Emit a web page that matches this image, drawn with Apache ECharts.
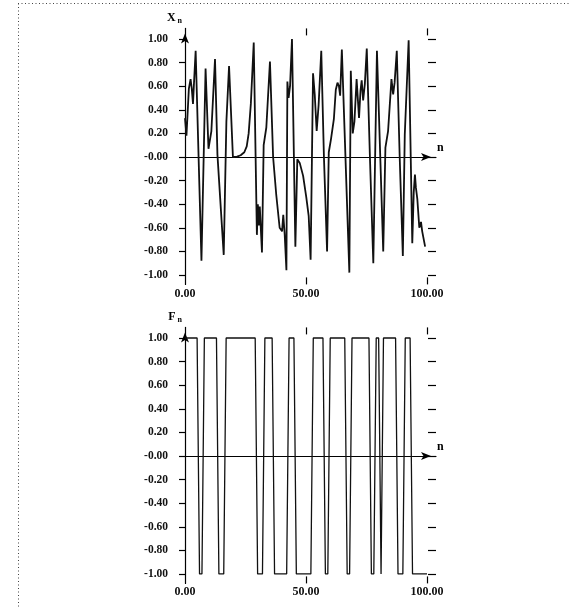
<!DOCTYPE html>
<html><head><meta charset="utf-8">
<script src="https://cdn.jsdelivr.net/npm/echarts@6/dist/echarts.min.js"></script>
<style>html,body{margin:0;padding:0;background:#fff}#c{width:569px;height:608px}</style>
</head><body><div id="c"></div>
<script>
// ---- data ----
const xTickVals = [0, 50, 100];
const xTickLabels = ['0.00', '50.00', '100.00'];
const yTickVals = [-1, -0.8, -0.6, -0.4, -0.2, 0, 0.2, 0.4, 0.6, 0.8, 1];
const yTickLabels = ['-1.00', '-0.80', '-0.60', '-0.40', '-0.20', '-0.00', '0.20', '0.40', '0.60', '0.80', '1.00'];

// X_n polyline (n, value)
const xN = [0, 0.6, 1.6, 2.3, 2.8, 3.3, 3.7, 4.4, 6.8, 8.5, 9.7, 10.9, 12.4, 13.4, 16.0, 17.1, 18.2, 19.8,
  21.5, 23.0, 24.5, 25.5, 26.3, 27.2, 28.4, 29.7, 30.1, 30.5, 30.9, 31.3, 31.8, 32.5, 33.6, 35.1, 36.4,
  37.7, 39.1, 40.1, 40.6, 41.2, 41.9, 42.3, 42.8, 43.4, 44.2, 45.6, 46.4, 47.4, 48.8, 50.1, 51.1, 51.9,
  52.9, 53.6, 54.4, 55.2, 56.3, 57.4, 58.7, 59.4, 60.3, 61.5, 62.3, 63.0, 63.6, 64.1, 64.8, 67.9, 68.5,
  69.3, 70.0, 70.9, 71.9, 72.5, 73.0, 73.6, 74.3, 75.1, 76.4, 77.8, 79.3, 81.9, 82.8, 83.9, 85.3, 86.0,
  86.6, 87.5, 88.7, 90.0, 90.8, 92.4, 93.9, 94.5, 95.0, 95.4, 96.0, 96.8, 97.5, 98.0, 99.2];
const xVal = [0.33, 0.18, 0.58, 0.66, 0.58, 0.45, 0.62, 0.9, -0.88, 0.75, 0.07, 0.22, 0.83, 0.02, -0.83, 0.3, 0.77, 0.0,
  0.003, 0.015, 0.04, 0.09, 0.2, 0.45, 0.97, -0.66, -0.4, -0.58, -0.42, -0.6, -0.81, 0.1, 0.25, 0.81, 0.0,
  -0.32, -0.6, -0.63, -0.49, -0.66, -0.96, 0.64, 0.5, 0.6, 1.0, -0.76, -0.02, -0.05, -0.16, -0.34, -0.5, -0.87,
  0.71, 0.53, 0.22, 0.44, 0.9, 0.0, -0.8, 0.04, 0.15, 0.32, 0.57, 0.63, 0.6, 0.52, 0.91, -0.98, 0.73,
  0.2, 0.3, 0.66, 0.33, 0.56, 0.65, 0.48, 0.62, 0.92, 0.0, -0.9, 0.9, -0.8, 0.08, 0.22, 0.66, 0.53,
  0.63, 0.9, 0.0, -0.84, 0.19, 0.99, -0.73, -0.3, -0.15, -0.26, -0.36, -0.6, -0.55, -0.63, -0.76];

// F_n, n = 0..100
const fVal = [1, 1, 1, 1, 1, 1, -1, -1, 1, 1, 1, 1, 1, 1, -1, -1, -1,
  1, 1, 1, 1, 1, 1, 1, 1, 1, 1, 1, 1, 1, -1, -1, -1, 1, 1, 1, 1,
  -1, -1, -1, -1, -1, -1, 1, 1, 1, -1, -1, -1, -1, -1, -1, -1,
  1, 1, 1, 1, 1, -1, -1, 1, 1, 1, 1, 1, 1, 1, -1, -1,
  1, 1, 1, 1, 1, 1, 1, 1, -1, -1, 1, 1, -1, 1, 1, 1, 1, 1, 1,
  -1, -1, -1, 1, 1, 1, -1, -1, -1, -1, -1, -1, -1];

// ---- chart ----
const FONT = 'Liberation Serif';
const yFmt = v => { const i = yTickVals.findIndex(t => Math.abs(t - v) < 1e-6); return i >= 0 ? yTickLabels[i] : ''; };
const xFmt = v => { const i = xTickVals.findIndex(t => Math.abs(t - v) < 1e-6); return i >= 0 ? xTickLabels[i] : ''; };
const LINE = { color: '#000', width: 1.2 };
const XMAX = 103.7, YMIN = -1.08, YMAX = 1.09;

function xAxesFor(g, labelMargin) {
  return [
    { gridIndex: g, type: 'value', min: 0, max: XMAX, position: 'bottom',
      axisLine: { show: false, onZero: false },
      axisTick: { show: true, inside: true, length: 7, customValues: [50, 100], lineStyle: LINE },
      axisLabel: { show: true, customValues: xTickVals, formatter: xFmt, margin: labelMargin,
        fontFamily: FONT, fontSize: 12, fontWeight: 'bold', color: '#111' },
      splitLine: { show: false } },
    { gridIndex: g, type: 'value', min: 0, max: XMAX, position: 'top',
      axisLine: { show: false, onZero: false },
      axisTick: { show: true, inside: true, length: 7, customValues: [50, 100], lineStyle: LINE },
      axisLabel: { show: false }, splitLine: { show: false } },
    { gridIndex: g, type: 'value', min: 0, max: XMAX, position: 'bottom',
      axisLine: { show: true, onZero: true, lineStyle: LINE, symbol: ['none', 'arrow'], symbolSize: [6, 10], symbolOffset: [0, -5] },
      axisTick: { show: false }, axisLabel: { show: false }, splitLine: { show: false },
      name: 'n', nameLocation: 'end', nameGap: 1,
      nameTextStyle: { fontFamily: FONT, fontSize: 12, fontWeight: 'bold', color: '#000', align: 'left', verticalAlign: 'bottom', padding: [0, 0, 3, 0] } }
  ];
}
function yAxesFor(g, sym) {
  return [
    { gridIndex: g, type: 'value', min: YMIN, max: YMAX, position: 'left',
      axisLine: { show: true, onZero: false, lineStyle: LINE, symbol: ['none', 'arrow'], symbolSize: [6, 10], symbolOffset: [0, -5] },
      axisTick: { show: true, inside: false, length: 6, customValues: yTickVals, lineStyle: LINE },
      axisLabel: { show: true, customValues: yTickVals, formatter: yFmt, margin: 17,
        fontFamily: FONT, fontSize: 11.5, fontWeight: 'bold', color: '#111' },
      splitLine: { show: false },
      name: '{a|' + sym + '}{b|n}', nameLocation: 'end', nameGap: 3,
      nameTextStyle: { align: 'right', verticalAlign: 'bottom', padding: [0, 3, 0, 0],
        rich: { a: { fontFamily: FONT, fontSize: 12, fontWeight: 'bold', color: '#000' },
                b: { fontFamily: FONT, fontSize: 8, fontWeight: 'bold', color: '#000', padding: [6, 0, 0, 2] } } } },
    { gridIndex: g, type: 'value', min: YMIN, max: YMAX, position: 'right',
      axisLine: { show: false, onZero: false },
      axisTick: { show: true, inside: true, length: 8, customValues: yTickVals, lineStyle: LINE },
      axisLabel: { show: false }, splitLine: { show: false } }
  ];
}

const chart = echarts.init(document.getElementById('c'), null, { renderer: 'canvas' });
chart.setOption({
  animation: false,
  backgroundColor: '#fff',
  grid: [
    { left: 185, top: 28.4, width: 251, height: 256 },
    { left: 185, top: 327.4, width: 251, height: 256 }
  ],
  xAxis: [...xAxesFor(0, 4), ...xAxesFor(1, 3)],
  yAxis: [...yAxesFor(0, 'X'), ...yAxesFor(1, 'F')],
  series: [
    { type: 'line', xAxisIndex: 0, yAxisIndex: 0, showSymbol: false, symbol: 'none',
      data: xN.map((n, i) => [n, xVal[i]]),
      lineStyle: { color: '#111', width: 1.8 } },
    { type: 'line', xAxisIndex: 3, yAxisIndex: 2, showSymbol: false, symbol: 'none',
      data: fVal.map((v, n) => [n, v]),
      lineStyle: { color: '#111', width: 1.3 } }
  ],
  graphic: [
    { type: 'line', shape: { x1: 18, y1: 3.5, x2: 569, y2: 3.5 }, style: { stroke: '#444', lineWidth: 1, lineDash: [1, 2.5] }, silent: true },
    { type: 'line', shape: { x1: 18.5, y1: 3.5, x2: 18.5, y2: 608 }, style: { stroke: '#444', lineWidth: 1, lineDash: [1, 2.5] }, silent: true }
  ]
});
</script></body></html>
